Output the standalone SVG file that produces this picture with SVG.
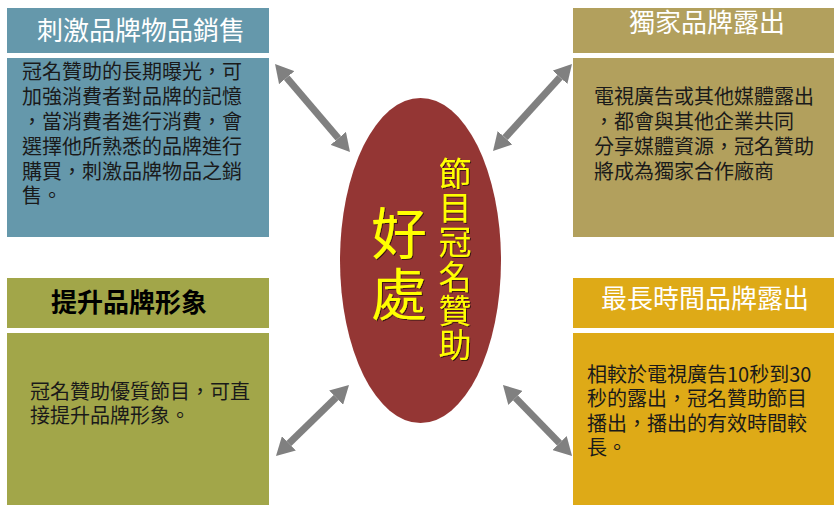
<svg xmlns="http://www.w3.org/2000/svg" width="834" height="505" viewBox="0 0 834 505">
<style>
text { font-family: "Noto Sans CJK TC", "Noto Sans CJK SC", sans-serif; }
.hd { font-size: 26px; fill: #ffffff; text-anchor: middle; }
.hdb { font-size: 26px; fill: #000000; text-anchor: middle; font-weight: bold; }
.bd { font-size: 20px; fill: #1a1a1a; }
.arrow { stroke: #808080; stroke-width: 7; fill: none; marker-start: url(#ah); marker-end: url(#ah); }
.big { font-size: 56px; fill: #ffff00; writing-mode: vertical-rl; letter-spacing: 5px; }
.vert { font-size: 33px; fill: #ffff00; writing-mode: vertical-rl; letter-spacing: 1.2px; }
</style>
<defs>
<marker id="ah" markerUnits="userSpaceOnUse" viewBox="0 0 18 20" markerWidth="18" markerHeight="20" refX="0" refY="10" orient="auto-start-reverse">
<path d="M0,0 L18,10 L0,20 z" fill="#808080"/>
</marker>
<filter id="sh" x="-20%" y="-20%" width="140%" height="140%">
<feDropShadow dx="1" dy="1" stdDeviation="0.6" flood-color="#000000" flood-opacity="0.6"/>
</filter>
</defs>
<rect width="834" height="505" fill="#ffffff"/>

<g id="node-top-left">
<rect x="7" y="8" width="262" height="45" fill="#6598AB"/>
<rect x="7" y="58" width="262" height="179" fill="#6598AB"/>
<text class="hd" x="141" y="40">刺激品牌物品銷售</text>
<text class="bd">
<tspan x="22" y="79">冠名贊助的長期曝光，可</tspan>
<tspan x="22" y="104">加強消費者對品牌的記憶</tspan>
<tspan x="22" y="129">，當消費者進行消費，會</tspan>
<tspan x="22" y="154">選擇他所熟悉的品牌進行</tspan>
<tspan x="22" y="179">購買，刺激品牌物品之銷</tspan>
<tspan x="22" y="203">售。</tspan>
</text>
</g>

<g id="node-top-right">
<rect x="573" y="8" width="261" height="45" fill="#B2A05D"/>
<rect x="573" y="58" width="261" height="179" fill="#B2A05D"/>
<text class="hd" x="707" y="32">獨家品牌露出</text>
<text class="bd">
<tspan x="594" y="104">電視廣告或其他媒體露出</tspan>
<tspan x="594" y="129">，都會與其他企業共同</tspan>
<tspan x="594" y="154">分享媒體資源，冠名贊助</tspan>
<tspan x="594" y="179">將成為獨家合作廠商</tspan>
</text>
</g>

<g id="node-bottom-left">
<rect x="7" y="278" width="262" height="50" fill="#A2A649"/>
<rect x="7" y="333" width="262" height="172" fill="#A2A649"/>
<text class="hdb" x="129" y="312">提升品牌形象</text>
<text class="bd">
<tspan x="30" y="399">冠名贊助優質節目，可直</tspan>
<tspan x="30" y="423">接提升品牌形象。</tspan>
</text>
</g>

<g id="node-bottom-right">
<rect x="573" y="278" width="261" height="50" fill="#DEAA17"/>
<rect x="573" y="333" width="261" height="172" fill="#DEAA17"/>
<text class="hd" x="705" y="308">最長時間品牌露出</text>
<text class="bd">
<tspan x="587" y="382">相較於電視廣告10秒到30</tspan>
<tspan x="587" y="406">秒的露出，冠名贊助節目</tspan>
<tspan x="587" y="431">播出，播出的有效時間較</tspan>
<tspan x="587" y="455">長。</tspan>
</text>
</g>

<g id="node-center">
<ellipse cx="420.5" cy="260.5" rx="80.5" ry="162.5" fill="#943634"/>
<text class="big" x="399" y="205" filter="url(#sh)">好處</text>
<text class="vert" x="455" y="157" filter="url(#sh)">節目冠名贊助</text>
</g>

<g id="connectors">
<line class="arrow" x1="286.7" y1="77.7" x2="338.3" y2="138.3"/>
<line class="arrow" x1="559.9" y1="77.3" x2="505.1" y2="137.7"/>
<line class="arrow" x1="336.1" y1="397.6" x2="288.9" y2="443.4"/>
<line class="arrow" x1="515.5" y1="397.9" x2="559.5" y2="443.1"/>
</g>
</svg>
